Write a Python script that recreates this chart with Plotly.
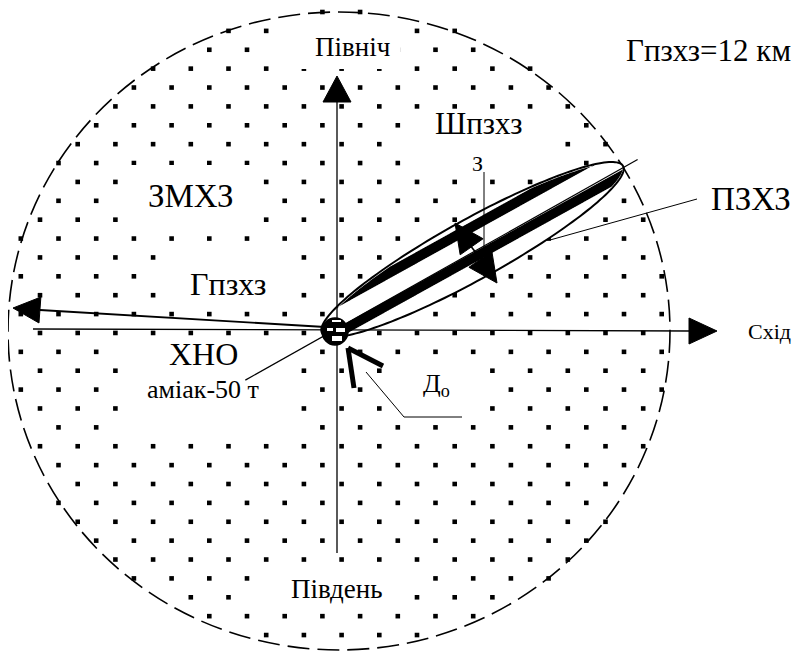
import numpy as np
import plotly.graph_objects as go

W, H = 805, 652
PAGE_MARGIN = 8   # default <body> margin of the page that holds the figure

# ---- diagram values (pixel space of the scheme) ----
zone_radius_km = 12                      # Гпзхз = 12 км
circle_center = (339, 331)               # ХНО / centre of the danger zone
circle_radii = (331, 319)                # ЗМХЗ radius in x / y
pzxz_start = (322, 333)                  # ПЗХЗ ellipse, source end
pzxz_end = (623, 166)                    # ПЗХЗ ellipse, far tip (on the ЗМХЗ border)
pzxz_half_width = 30                     # half of Шпзхз

dot_row_step = 18.88
dot_col_step = 37.7
dot_first_row = 12
dot_offsets = (20.8, 2.3)

labels = ["Північ", "Південь", "Схід", "ЗМХЗ", "Гпзхз", "ХНО", "аміак-50 т",
          "Шпзхз", "З", "ПЗХЗ", f"Гпзхз={zone_radius_km} км", "Д<sub>о</sub>"]
label_x = [352, 337, 769, 190, 228, 203, 203, 478, 477, 751, 708, 421]
label_y = [47, 589, 331, 196, 284, 354, 389, 123, 163, 199, 50, 385]
label_size = [27, 27, 22, 33, 32, 32, 26, 31, 22, 33, 31, 26]
label_anchor = ["center"] * 11 + ["left"]

# white areas behind labels (x0, x1, y0, y1)
masks = [(272, 400, 18, 69), (120, 255, 165, 228), (160, 292, 248, 305),
         (120, 295, 340, 437), (255, 405, 568, 607), (386, 485, 362, 418),
         (408, 558, 116, 173)]

FONT = "Liberation Serif"

cx, cy = circle_center
rx, ry = circle_radii

# ---- dotted fill of the ЗМХЗ zone ----
dx, dy = [], []
for k in range(40):
    y = dot_first_row + dot_row_step * k
    off = dot_offsets[k % 2]
    for j in range(25):
        x = off + dot_col_step * j
        if ((x - cx) / rx) ** 2 + ((y - cy) / ry) ** 2 <= 1.01:
            dx.append(x)
            dy.append(y)

fig = go.Figure()
fig.add_trace(go.Scatter(x=dx, y=dy, mode="markers",
                         marker=dict(symbol="square", size=4.6, color="black",
                                     line=dict(width=0)),
                         hoverinfo="skip", showlegend=False))


def path(pts, close=True):
    s = "M " + " L ".join(f"{p[0]:.2f},{p[1]:.2f}" for p in pts)
    return s + (" Z" if close else "")


def tri(tip, toward, length, half):
    t = np.array(tip, float)
    d = np.array(toward, float) - t
    d /= np.linalg.norm(d)
    n = np.array([-d[1], d[0]])
    b = t + d * length
    return [t, b + n * half, b - n * half]


shapes = []
for (x0, x1, y0, y1) in masks:
    shapes.append(dict(type="rect", x0=x0, x1=x1, y0=y0, y1=y1,
                       fillcolor="white", line=dict(width=0), layer="above"))

# dashed ЗМХЗ border
shapes.append(dict(type="circle", x0=cx - rx, x1=cx + rx, y0=cy - ry, y1=cy + ry,
                   line=dict(color="black", width=1.6, dash="22px,8px"), layer="above"))

# ПЗХЗ ellipse
p0 = np.array(pzxz_start, float)
p1 = np.array(pzxz_end, float)
ec = (p0 + p1) / 2
a = np.linalg.norm(p1 - p0) / 2
u = (p1 - p0) / (2 * a)
n = np.array([-u[1], u[0]])
if n[1] < 0:
    n = -n
b = pzxz_half_width
t = np.linspace(0, 2 * np.pi, 181)
ell = [ec + a * np.cos(tt) * u + b * np.sin(tt) * n for tt in t]
shapes.append(dict(type="path", path=path(ell), fillcolor="white",
                   line=dict(width=0), layer="above"))


def band(o_in, o_out):
    uu = np.linspace(-a, a, 400)
    w = b * np.sqrt(np.clip(1 - (uu / a) ** 2, 0, None))
    sgn = np.sign(o_out)
    ok = w > abs(o_in) + 0.5
    uu, w = uu[ok], w[ok]
    outer = sgn * np.minimum(abs(o_out), w - 1.5)
    top = [ec + s * u + o * n for s, o in zip(uu, outer)]
    bot = [ec + s * u + o_in * n for s in uu[::-1]]
    return top + bot


shapes.append(dict(type="path", path=path(band(-15, -25)), fillcolor="black",
                   line=dict(width=0), layer="above"))
shapes.append(dict(type="path", path=path(band(3, 12.5)), fillcolor="black",
                   line=dict(width=0), layer="above"))
shapes.append(dict(type="path", path=path(ell), fillcolor="rgba(0,0,0,0)",
                   line=dict(color="black", width=2), layer="above"))

# axis of the ПЗХЗ (continues as the ХНО leader)
ax0 = ec + (-262) * u + 4 * n
ax1 = ec + 188 * u + 1.5 * n
shapes.append(dict(type="line", x0=ax0[0], y0=ax0[1], x1=ax1[0], y1=ax1[1],
                   line=dict(color="black", width=1.2), layer="above"))

line_specs = [((337, 102), (337, 553), 1.3), ((33, 329), (690, 331), 1.3),
              ((325, 327), (40, 310), 1.8),
              ((550, 240), (697, 199), 1.0),
              ((366, 372), (404, 417), 1.0), ((404, 417), (462, 417), 1.0),
              ((484, 172), (484, 256), 1.0),
              ((463, 236), (490, 271), 1.6)]
for (q0, q1, wdt) in line_specs:
    shapes.append(dict(type="line", x0=q0[0], y0=q0[1], x1=q1[0], y1=q1[1],
                       line=dict(color="black", width=wdt), layer="above"))

heads = [tri((337, 76), (337, 102), 26, 14),
         tri((717, 331), (689, 331), 28, 13),
         tri((13, 308), (40, 310), 27, 13),
         tri((455, 223), (476, 253), 29, 14),
         tri((497, 283), (476, 253), 29, 14)]
for h in heads:
    shapes.append(dict(type="path", path=path(h), fillcolor="black",
                       line=dict(color="black", width=1), layer="above"))

# ХНО source circle
shapes.append(dict(type="circle", x0=322, x1=348, y0=318, y1=345,
                   fillcolor="black", line=dict(color="black", width=1.5), layer="above"))
for (x0, x1, y0, y1) in [(327, 333, 328, 331), (336, 345, 328, 332),
                         (332, 342, 336, 341), (332, 341, 320, 322)]:
    shapes.append(dict(type="rect", x0=x0, x1=x1, y0=y0, y1=y1,
                       fillcolor="white", line=dict(width=0), layer="above"))

# Д_о chevron
for q in [(354, 388), (383, 366)]:
    shapes.append(dict(type="line", x0=348, y0=348, x1=q[0], y1=q[1],
                       line=dict(color="black", width=5), layer="above"))

annotations = []
for txt, x, y, s, anc in zip(labels, label_x, label_y, label_size, label_anchor):
    annotations.append(dict(x=x, y=y, text=txt, showarrow=False,
                            xanchor=anc, yanchor="middle",
                            font=dict(family=FONT, size=s, color="black")))

fig.update_layout(
    width=W, height=H, margin=dict(l=0, r=0, t=0, b=0),
    paper_bgcolor="white", plot_bgcolor="white",
    font=dict(family=FONT),
    xaxis=dict(range=[PAGE_MARGIN, W + PAGE_MARGIN], visible=False, fixedrange=True),
    yaxis=dict(range=[H + PAGE_MARGIN, PAGE_MARGIN], visible=False, fixedrange=True),
    shapes=shapes, annotations=annotations, showlegend=False,
)

fig.write_html("out.html")
